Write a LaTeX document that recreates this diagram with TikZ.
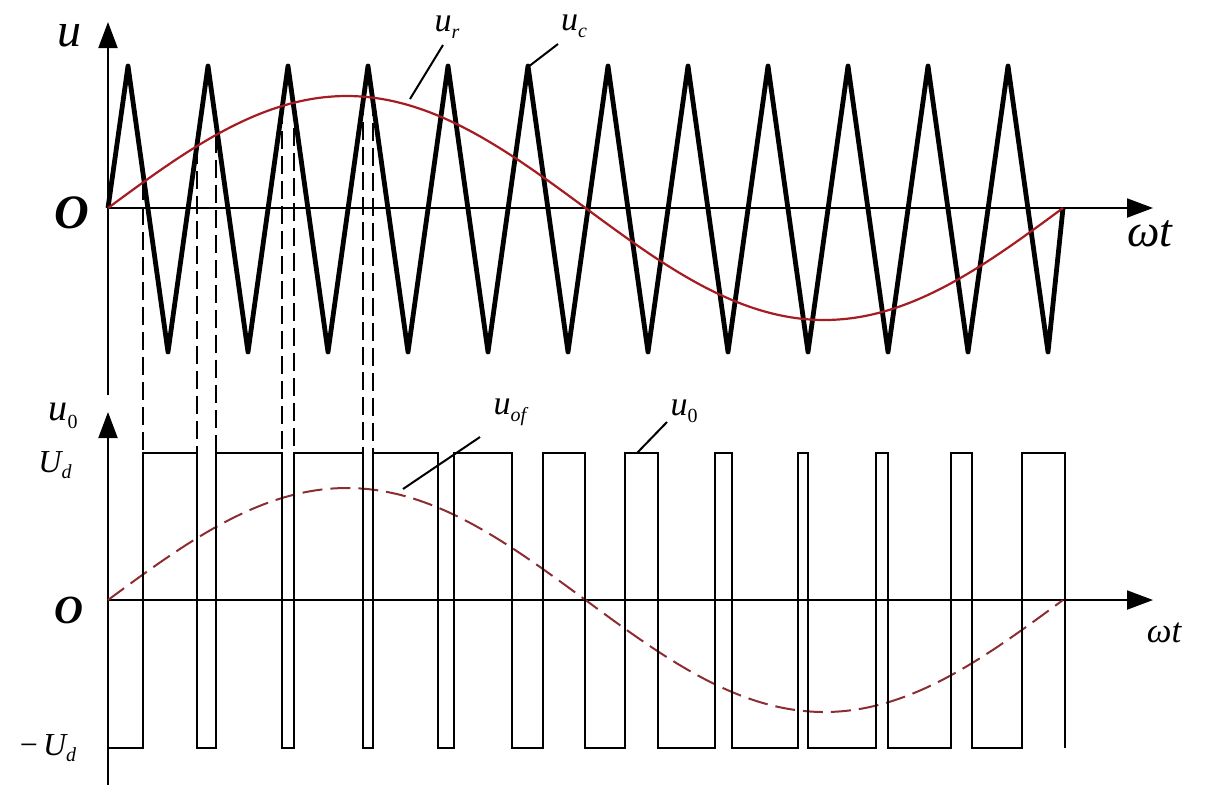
\documentclass[tikz,border=0pt]{standalone}
\usepackage{fontspec}
\setmainfont{Liberation Serif}
\usepackage{tikz}
\usetikzlibrary{arrows.meta}
\definecolor{refred}{RGB}{165, 28, 34}
\definecolor{refbrown}{RGB}{140, 45, 50}
\newcommand{\vsub}[2]{#1\raisebox{-0.45ex}{\fontsize{10}{10}\selectfont #2}}

\begin{document}
\begin{tikzpicture}[x=0.5pt, y=-0.5pt,
	axis/.style={line width=1pt, -{Triangle[length=13pt, width=9.5pt]}},
	carrier/.style={line width=2.4pt, line join=round},
	refwave/.style={refred, line width=1.1pt},
	pulse/.style={line width=0.9pt},
	guide/.style={line width=1.3pt, dash pattern=on 9pt off 3.5pt},
	leader/.style={line width=1pt},
	lab/.style={inner sep=0pt, font=\fontsize{17}{17}\selectfont\itshape}]
	\useasboundingbox (0,0) rectangle (1218,799);
	\coordinate (o1) at (108,208);
	\coordinate (o2) at (108,600);
	\draw[axis] (108,395) -- (108,22);
	\draw[axis] (o1) -- (1153,208);
	\draw[axis] (108,785) -- (108,412);
	\draw[axis] (o2) -- (1153,600);
	% dashed projections of the crossing points
	\foreach \t in {143,197,216,282,294,363,373} {
		\draw[guide] (\t,{208-112*sin(0.376963*(\t-108))}) -- (\t,453);
	}
	\draw[carrier] (o1) \foreach \k in {0,...,11} { -- (128+80*\k,66) -- (168+80*\k,352) } -- (1063,208);
	\draw[refwave] plot[domain=0:955, samples=120, smooth] ({108+\x},{208-112*sin(0.376963*\x)});
	\draw[refbrown, line width=1pt, dash pattern=on 10pt off 4pt] plot[domain=0:955, samples=120, smooth] ({108+\x},{600-112*sin(0.376963*\x)});
	\draw[pulse] (108,748) \foreach \r/\f in {143/197,216/282,294/363,373/438,454/512,543/585,625/658,715/732,798/808,876/888,951/972,1022/1065} { -- (\r,748) -- (\r,453) -- (\f,453) -- (\f,748) };
	% labels
	\node[lab, font=\fontsize{24}{24}\selectfont\itshape] (lu) at (69,36) {u};
	\node[lab, font=\fontsize{24}{24}\selectfont\bfseries\itshape] (lo1) at (72,213) {O};
	\node[lab, font=\fontsize{23}{23}\selectfont\itshape] (lwt1) at (1150,234) {ωt};
	\node[lab] (lur) at (447,27) {\vsub{u}{r}};
	\node[lab] (luc) at (574,26) {\vsub{u}{c}};
	\node[lab, font=\fontsize{19}{19}\selectfont\itshape] (lu0) at (63,416) {\vsub{u}{\upshape 0}};
	\node[lab, font=\fontsize{16}{16}\selectfont\itshape] (lud) at (55,465) {\vsub{U}{d}};
	\node[lab, font=\fontsize{20}{20}\selectfont\bfseries\itshape] (lo2) at (69,610) {O};
	\node[lab, font=\fontsize{16}{16}\selectfont\itshape] (lmud) at (48,748) {\vsub{\upshape −\,\itshape U}{d}};
	\node[lab] (luof) at (510,412) {\vsub{u}{of}};
	\node[lab] (lu0b) at (684,411) {\vsub{u}{\upshape 0}};
	\node[lab, font=\fontsize{17.5}{17.5}\selectfont\itshape] (lwt2) at (1164,633) {ωt};
	\coordinate (pr) at (410,99);
	\coordinate (pc) at (528,67);
	\coordinate (pof) at (403,489);
	\coordinate (p0) at (637,453);
	\draw[leader] (pr) -- (443,45);
	\draw[leader] (pc) -- (558,44);
	\draw[leader] (pof) -- (480,437);
	\draw[leader] (p0) -- (667,422);
\end{tikzpicture}
\end{document}
